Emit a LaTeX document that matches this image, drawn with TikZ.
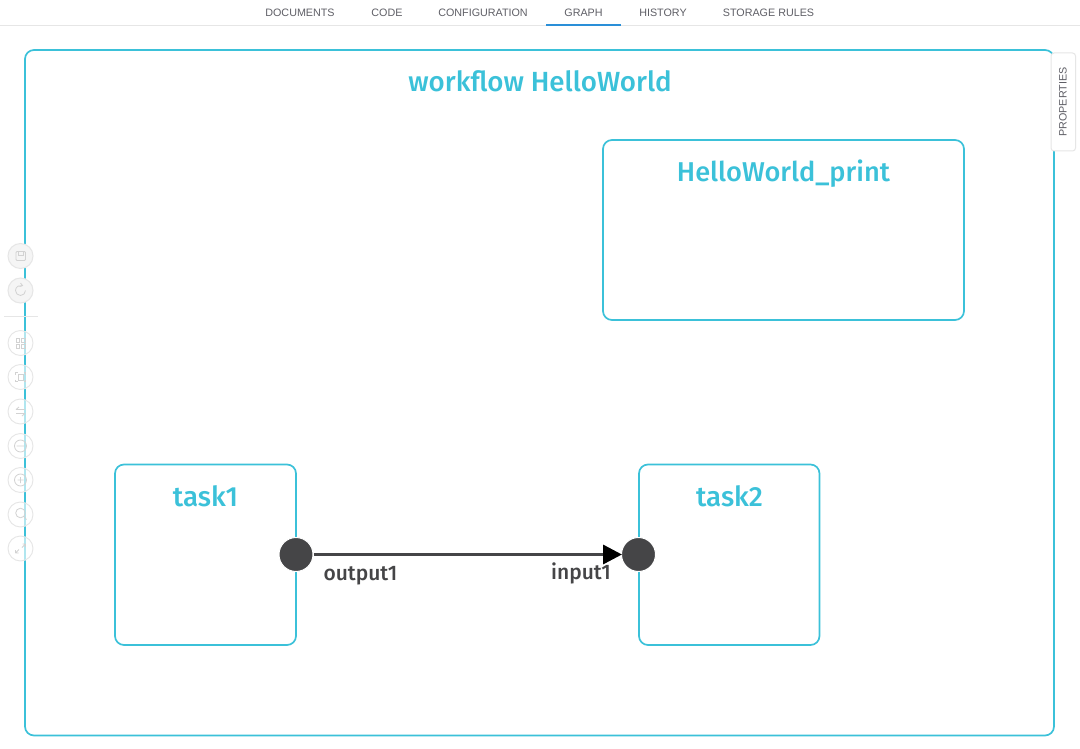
\documentclass[tikz,border=0pt]{standalone}
\usepackage{fontspec}
\setmainfont{Fira Sans}
\newfontfamily\uifont{Liberation Sans}
\usetikzlibrary{arrows.meta}
\definecolor{cy}{HTML}{3BC1D9}
\definecolor{port}{HTML}{454547}
\definecolor{tabtxt}{HTML}{5F5F66}
\definecolor{tabline}{HTML}{2A8FD8}
\definecolor{lite}{HTML}{E6E6E6}
\definecolor{ico}{HTML}{D2D2D2}
\tikzset{
  x=1pt,y=-1pt,
  box/.style={draw=cy,line width=1.7pt,rounded corners=9pt,fill=white},
  title/.style={text=cy,font=\fontsize{27.7}{30}\selectfont\fontspec{Fira Sans Medium},anchor=center,inner sep=0pt},
  tab/.style={text=tabtxt,font=\uifont\fontsize{10.75}{12}\selectfont,anchor=center,inner sep=0pt},
  portdot/.style={circle,fill=port,minimum size=34pt,inner sep=0pt,draw=none},
  plabel/.style={text=port,font=\fontsize{21}{24}\selectfont\fontspec{Fira Sans Medium},anchor=center,inner sep=0pt},
  toolbtn/.style={circle,draw=lite,line width=.9pt,fill=white,fill opacity=.6,minimum size=25pt,inner sep=0pt},
  toolact/.style={circle,draw=lite,line width=1pt,fill=black!4,minimum size=25pt,inner sep=0pt},
  icon/.style={draw=ico,line width=.8pt},
}
\begin{document}
\begin{tikzpicture}
\useasboundingbox (0,0) rectangle (1080,749);
\fill[white] (0,0) rectangle (1080,749);
% tab bar
\coordinate (barL) at (0,25.5); \coordinate (barR) at (1080,25.5);
\draw[lite,line width=1pt] (barL) -- (barR);
\node[tab] (t1) at (300,12.5) {DOCUMENTS};
\node[tab] (t2) at (387,12.5) {CODE};
\node[tab] (t3) at (483,12.5) {CONFIGURATION};
\node[tab] (t4) at (583.5,12.5) {GRAPH};
\node[tab] (t5) at (663,12.5) {HISTORY};
\node[tab] (t6) at (768.5,12.5) {STORAGE RULES};
\fill[tabline] (546,24) rectangle (621,26);
% workflow
\draw[box] (25,50) rectangle (1054,735.5);
\node[title] (wf) at (540,81) {workflow HelloWorld};
\draw[box] (603,140) rectangle (964,320);
\node[title,font=\fontsize{27.2}{30}\selectfont\fontspec{Fira Sans Medium}] (hp) at (783.5,173.5) {HelloWorld\_print};
\draw[box] (115,464.5) rectangle (296,645);
\node[title] (a) at (205.5,496) {task1};
\draw[box] (639,464.5) rectangle (819.5,645);
\node[title] (b) at (729.5,496) {task2};
% ports
\node[portdot,draw=white,line width=1pt] (out) at (296,554.5) {};
\node[portdot,draw=white,line width=1pt] (in) at (638.5,554.5) {};
\draw[port,line width=3.4pt,-{Triangle[black,length=19pt,width=19pt]},shorten >=-1pt] (out) -- (in);
\node[plabel] (ol) at (360.5,575.5) {output1};
\node[plabel] (il) at (581,573) {input1};
% properties
\draw[lite,line width=1pt,rounded corners=3pt,fill=white] (1051,53) rectangle (1075.5,151);
\node[tab,rotate=90] (pr) at (1063,102) {PROPERTIES};
% toolbar
\coordinate (sepL) at (4,316.5); \coordinate (sepR) at (38,316.5);
\draw[lite,line width=.9pt] (sepL) -- (sepR);
\node[toolact] (s1) at (20.5,256) {};
\node[toolact] (s2) at (20.5,290.5) {};
\foreach \n/\y in {s3/343,s4/377,s5/411.5,s6/446,s7/480,s8/514.5,s9/548.5}{
  \node[toolbtn] (\n) at (20.5,\y) {};
}
% icons
\draw[icon,rounded corners=1pt] (16,251.5) rectangle (25.5,260.5);
\draw[icon] (18,251.5) rectangle (23,255);
\draw[icon] (25.5,290.5) arc[start angle=0,end angle=290,radius=5];
\draw[icon] (20.5,283) -- (22.5,285.5) -- (19.5,286.5);
\draw[icon] (16,338.5) rectangle (19.5,342) (21.5,338.5) rectangle (25,342) (16,344.5) rectangle (19.5,348) (21.5,344.5) rectangle (25,348);
\draw[icon] (18,374) rectangle (23,380);
\draw[icon] (15.5,374.5) |- (17.5,372.5) (23.5,372.5) -| (25.5,374.5) (15.5,379.5) |- (17.5,381.5) (23.5,381.5) -| (25.5,379.5);
\draw[icon] (16,409.5) -- (25,409.5) (16,413.5) -- (25,413.5) (19,407) -- (16,409.5) (22,416) -- (25,413.5);
\draw[icon] (20.5,446) circle (6) (16.5,446) -- (24.5,446);
\draw[icon] (20.5,480) circle (6) (17.5,480) -- (23.5,480) (20.5,477) -- (20.5,483);
\draw[icon] (20.5,513) circle (4.8) (24,516.5) -- (26.5,519.5);
\draw[icon] (15.5,553) -- (19,549.5) (15.5,553) -- (15.5,550) (15.5,553) -- (18.5,553) (25.5,544) -- (22,547.5) (25.5,544) -- (25.5,547) (25.5,544) -- (22.5,544);
\end{tikzpicture}
\end{document}
